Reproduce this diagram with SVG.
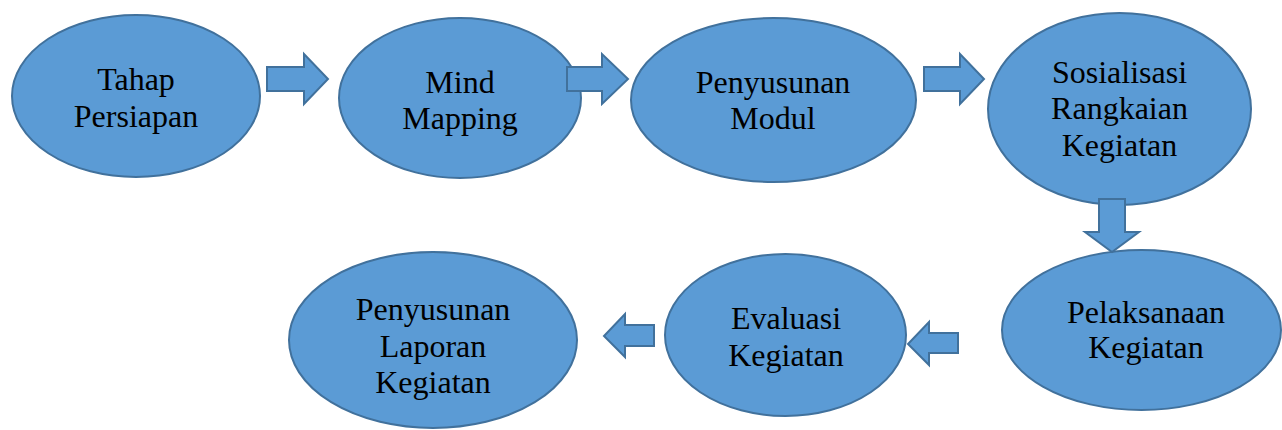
<svg xmlns="http://www.w3.org/2000/svg" width="1282" height="430" viewBox="0 0 1282 430">
<style>
.node ellipse{fill:#5B9BD5;stroke:#41719C;stroke-width:2}
.node text{font-size:32px;fill:#000;text-anchor:middle}
.arrow{fill:#5B9BD5;stroke:#41719C;stroke-width:2;stroke-linejoin:miter}
</style>
<rect width="1282" height="430" fill="#fff"/>
<g font-family="Liberation Serif, Tinos, DejaVu Serif, serif">
<g id="n1" class="node"><ellipse cx="136" cy="96" rx="124" ry="81"/><text x="136" y="90">Tahap</text><text x="136" y="127">Persiapan</text></g>
<g id="n2" class="node"><ellipse cx="460" cy="98" rx="121" ry="80"/><text x="460" y="93">Mind</text><text x="460" y="129">Mapping</text></g>
<g id="n3" class="node"><ellipse cx="773.5" cy="100" rx="142.5" ry="82"/><text x="773" y="93">Penyusunan</text><text x="773" y="129">Modul</text></g>
<g id="n4" class="node"><ellipse cx="1119.5" cy="109" rx="131.5" ry="96"/><text x="1119.5" y="83">Sosialisasi</text><text x="1119.5" y="119">Rangkaian</text><text x="1119.5" y="156">Kegiatan</text></g>
<g id="n5" class="node"><ellipse cx="1141.5" cy="330" rx="139.5" ry="80"/><text x="1146" y="323">Pelaksanaan</text><text x="1146" y="358">Kegiatan</text></g>
<g id="n6" class="node"><ellipse cx="785.5" cy="335" rx="120.5" ry="81"/><text x="786" y="329">Evaluasi</text><text x="786" y="366">Kegiatan</text></g>
<g id="n7" class="node"><ellipse cx="433" cy="340" rx="144" ry="88"/><text x="433" y="320">Penyusunan</text><text x="433" y="357">Laporan</text><text x="433" y="393">Kegiatan</text></g>
</g>
<g id="connectors">
<polygon class="arrow" points="267,67 304,67 304,54 328,79 304,104 304,91 267,91"/>
<polygon class="arrow" points="567,67 602,67 602,54 628,79 602,104 602,91 567,91"/>
<polygon class="arrow" points="924,67 960,67 960,54 984,79 960,104 960,91 924,91"/>
<polygon class="arrow" points="1099,199 1125,199 1125,232 1139,232 1112,252 1085,232 1099,232"/>
<polygon class="arrow" points="958,333 929,333 929,322 908,344 929,365 929,353 958,353"/>
<polygon class="arrow" points="654,325 625,325 625,314 604,336 625,357 625,346 654,346"/>
</g>
</svg>
